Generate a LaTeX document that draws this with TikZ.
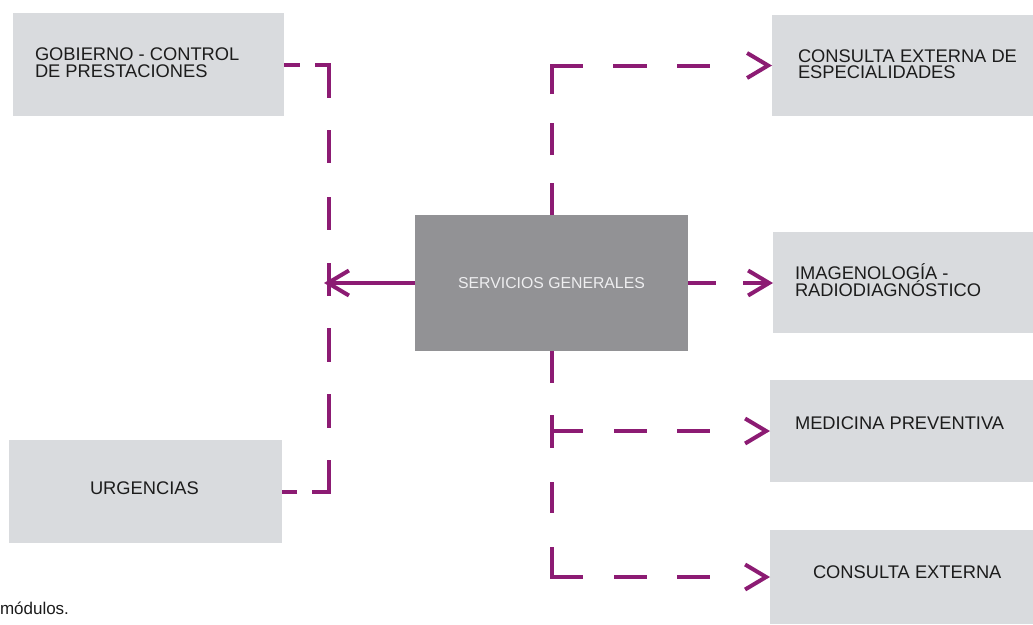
\documentclass[tikz,border=0pt]{standalone}
\usepackage{fontspec}
\setmainfont{Liberation Sans}
\usetikzlibrary{arrows.meta}
\definecolor{plum}{RGB}{140,27,115}
\definecolor{boxgrey}{RGB}{217,219,222}
\definecolor{midgrey}{RGB}{146,146,149}
\definecolor{ink}{RGB}{28,28,28}
\definecolor{paleink}{RGB}{238,238,240}
\begin{document}
\begin{tikzpicture}[x=1pt,y=-1pt,
  box/.style={fill=boxgrey, draw=none, inner sep=0pt, outer sep=0pt},
  lbl/.style={inner sep=0pt, outer sep=0pt, text=ink, font=\fontsize{18.3}{16.8}\selectfont, align=left},
  link/.style={draw=plum, line width=4pt},
  tip/.style={-{Straight Barb[length=21pt,width=25pt]}},
]
\useasboundingbox[fill=white] (0,0) rectangle (1033,624);

% boxes
\node[box, minimum width=271pt, minimum height=103pt] (gob) at (148.5,64.5) {};
\node[box, minimum width=273pt, minimum height=103pt] (urg) at (145.5,491.5) {};
\node[box, fill=midgrey, minimum width=273pt, minimum height=136pt,
      text=paleink, font=\fontsize{15.8}{18}\selectfont] (srv) at (551.5,283) {SERVICIOS GENERALES};
\node[box, minimum width=261pt, minimum height=101pt] (cee) at (902.5,65.5) {};
\node[box, minimum width=260pt, minimum height=101pt] (img) at (903,282.5) {};
\node[box, minimum width=263pt, minimum height=102pt] (mp) at (901.5,431) {};
\node[box, minimum width=263pt, minimum height=94pt] (ce) at (901.5,577) {};

% labels
\node[lbl, anchor=south west] (gobT) at (35,77.5) {GOBIERNO - CONTROL\\DE PRESTACIONES};
\node[lbl, anchor=base west] (urgT) at (90,494) {URGENCIAS};
\node[lbl, anchor=south west] (ceeT) at (798,79) {CONSULTA EXTERNA DE\\ESPECIALIDADES};
\node[lbl, anchor=south west] (imgT) at (795,296.5) {IMAGENOLOGÍA -\\RADIODIAGNÓSTICO};
\node[lbl, anchor=base west] (mpT) at (795,429.3) {MEDICINA PREVENTIVA};
\node[lbl, anchor=base west] (ceT) at (813,578.3) {CONSULTA EXTERNA};
\node[lbl, anchor=base west, font=\fontsize{17}{20}\selectfont] (note) at (0,614) {módulos.};

% connectors
\coordinate (lv) at (329,283);
\coordinate (tee) at (srv.south |- mp.west);

\draw[link, dash pattern=on 16pt off 15pt on 47.5pt off 32pt on 33pt off 34pt on 33pt off 33pt on 33pt off 32pt on 34pt off 32pt on 34pt off 32pt on 48.5pt off 15pt on 20pt]
  (gob.east) -| (lv) |- (urg.east);
\draw[link, tip, shorten >=-5pt] (srv.west) -- (lv);

\draw[link, tip, dash pattern=on 32pt off 28pt on 32pt off 29pt on 60pt off 30pt on 34pt off 30pt on 33pt off 100pt]
  (srv.north) |- (cee.west);
\draw[link, tip, dash pattern=on 28pt off 27pt on 100pt]
  (srv.east) -- (srv.east -| img.west);
\draw[link, tip, dash pattern=on 32pt off 32pt on 33pt off 34pt on 31pt off 34pt on 61.5pt off 31pt on 33pt off 30pt on 33pt off 100pt]
  (srv.south) |- (ce.west);
\draw[link, tip, dash pattern=on 31.5pt off 31pt on 33pt off 30pt on 33pt off 100pt]
  (tee) -- (mp.west);
\end{tikzpicture}
\end{document}
